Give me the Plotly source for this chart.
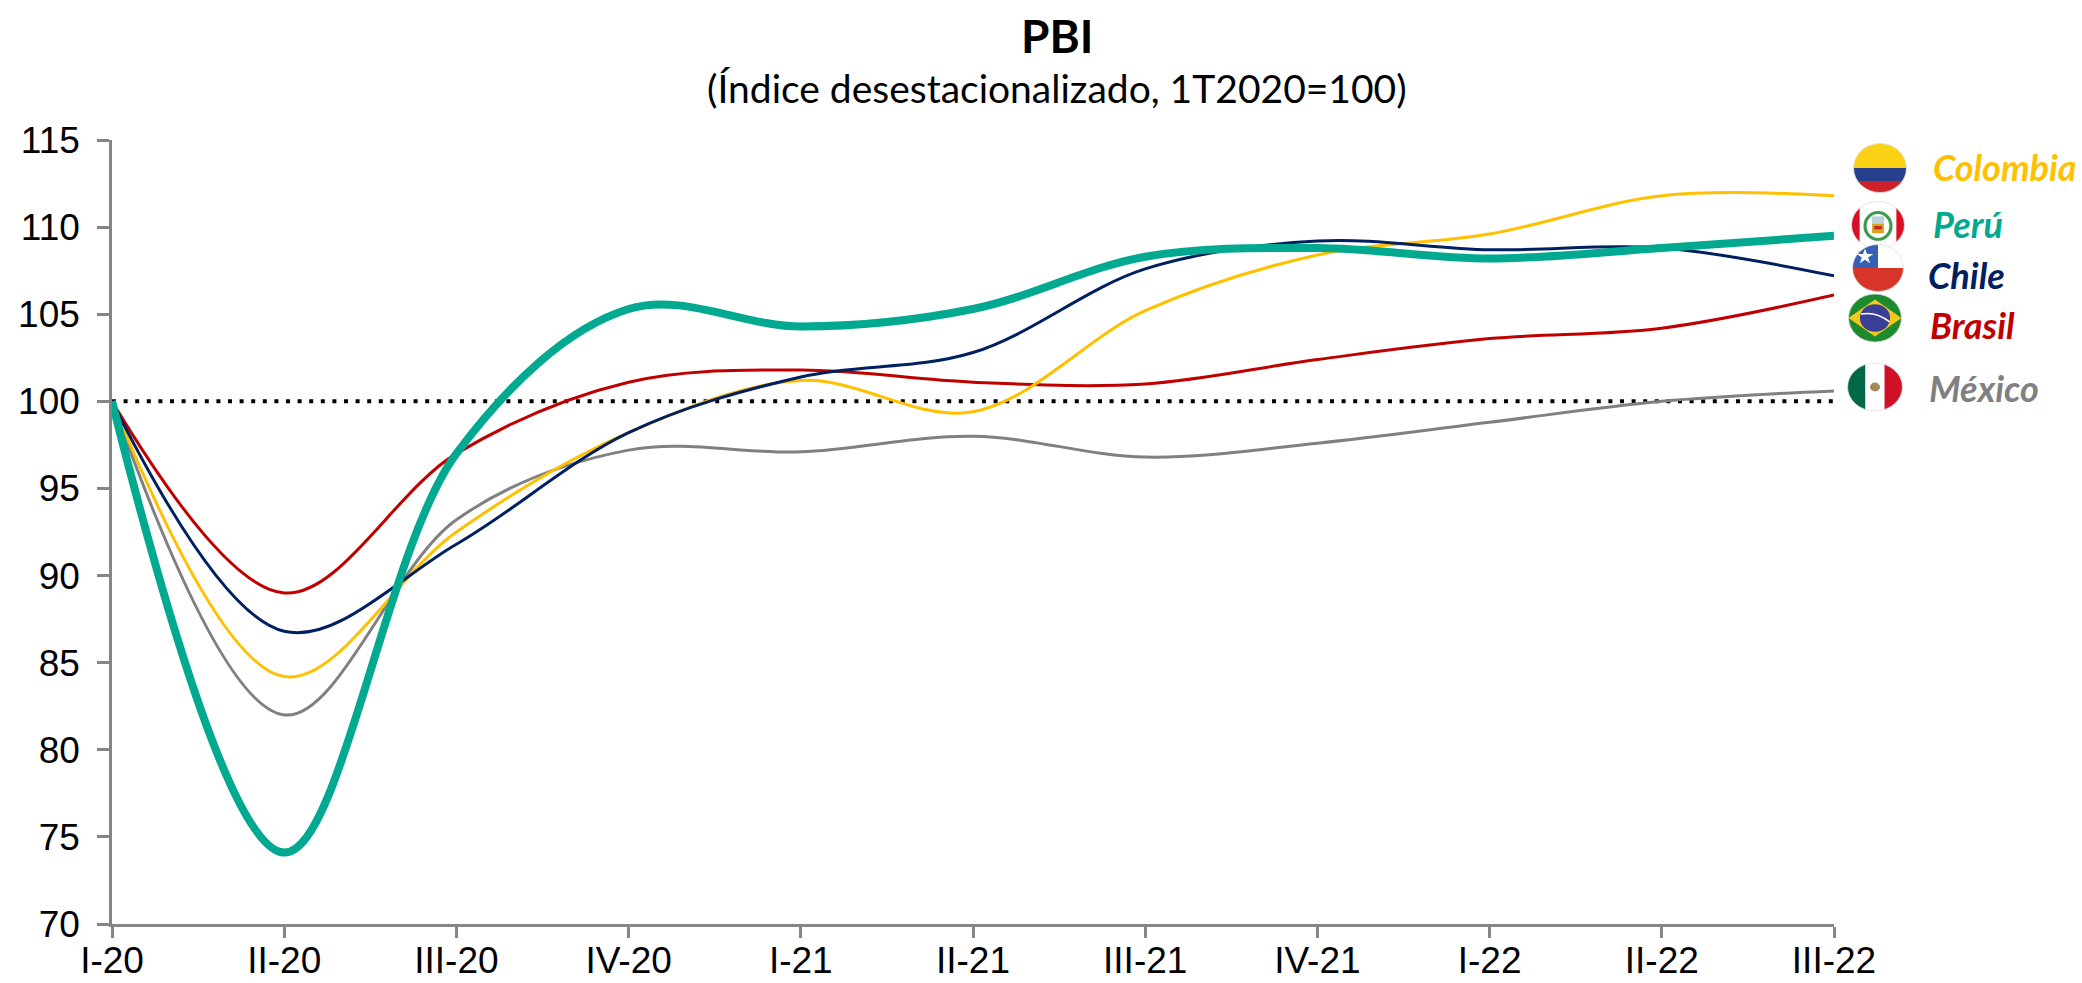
import base64
import plotly.graph_objects as go

W, H = 2082, 983
L, R, T, B = 112, 1834, 140, 924

quarters = ["I-20", "II-20", "III-20", "IV-20", "I-21", "II-21", "III-21", "IV-21", "I-22", "II-22", "III-22"]
base_line = [100] * 11
mexico = [100, 82.0, 93.2, 97.2, 97.1, 98.0, 96.8, 97.6, 98.8, 100.0, 100.6]
brasil = [100, 89.0, 97.0, 101.1, 101.8, 101.1, 101.0, 102.4, 103.6, 104.2, 106.1]
colombia = [100, 84.2, 92.5, 98.2, 101.2, 99.4, 105.2, 108.4, 109.6, 111.8, 111.8]
chile = [100, 86.8, 91.8, 98.2, 101.4, 102.8, 107.6, 109.2, 108.7, 108.8, 107.2]
peru = [100, 74.1, 97.0, 105.3, 104.3, 105.3, 108.3, 108.8, 108.2, 108.8, 109.5]

series = [
    ("México", mexico, "#808080", 3),
    ("Brasil", brasil, "#C00000", 3),
    ("Colombia", colombia, "#FFC000", 3),
    ("Chile", chile, "#002060", 3),
    ("Perú", peru, "#00A990", 8),
]

fig = go.Figure()
fig.add_trace(go.Scatter(x=list(range(11)), y=base_line, mode="lines", showlegend=False,
                         line=dict(color="#000000", width=4, dash="4px,7.6px")))
for name, vals, col, w in series:
    fig.add_trace(go.Scatter(x=list(range(11)), y=vals, mode="lines", name=name, showlegend=False,
                             line=dict(color=col, width=w, shape="spline", smoothing=1.0)))


def svg(body):
    s = ('<svg xmlns="http://www.w3.org/2000/svg" viewBox="0 0 100 100" width="200" height="200">'
         '<defs><clipPath id="c"><circle cx="50" cy="50" r="49"/></clipPath></defs>'
         '<g clip-path="url(#c)">' + body + '</g>'
         '<circle cx="50" cy="50" r="49" fill="none" stroke="#DDDDDD" stroke-width="1.5"/></svg>')
    return "data:image/svg+xml;base64," + base64.b64encode(s.encode()).decode()


def r(x, y, w, h, c):
    return f'<rect x="{x}" y="{y}" width="{w}" height="{h}" fill="{c}"/>'


flag_colombia = svg(r(0, 0, 100, 50, "#FBD116") + r(0, 50, 100, 26, "#27408B") + r(0, 76, 100, 24, "#CE2028"))
flag_peru = svg(r(0, 0, 100, 100, "#FFFFFF") + r(0, 0, 16, 100, "#D91023") + r(84, 0, 16, 100, "#D91023")
                + '<ellipse cx="50" cy="52" rx="24" ry="28" fill="none" stroke="#3C9A4A" stroke-width="6"/>'
                + r(39, 32, 22, 15, "#B9D3E0") + r(39, 47, 22, 20, "#D9A321") + r(43, 52, 14, 7, "#C8281E"))
flag_chile = svg(r(0, 0, 100, 50, "#FFFFFF") + r(0, 50, 100, 50, "#D8352A") + r(0, 0, 50, 50, "#3560B5")
                 + '<polygon points="25,10 29,21 41,21 31,28 35,40 25,33 15,40 19,28 9,21 21,21" fill="#FFFFFF"/>')
flag_brasil = svg(r(0, 0, 100, 100, "#1E8A2E") + '<polygon points="50,12 99,50 50,88 1,50" fill="#F2C81E"/>'
                  + '<circle cx="50" cy="50" r="28" fill="#3A3F96"/>'
                  + '<path d="M24 42 Q52 36 77 58" fill="none" stroke="#FFFFFF" stroke-width="3"/>')
flag_mexico = svg(r(0, 0, 33, 100, "#006847") + r(33, 0, 34, 100, "#FFFFFF") + r(67, 0, 33, 100, "#CE1126")
                  + '<circle cx="50" cy="50" r="9" fill="#A58A5A"/>')

# centre x, centre y, width, height in page pixels
flags = [
    (flag_colombia, 1880, 168, 54, 50),
    (flag_peru, 1878, 225, 54, 48),
    (flag_chile, 1878, 268, 52, 48),
    (flag_brasil, 1875, 318, 54, 49),
    (flag_mexico, 1875, 387, 56, 49),
]
images = [dict(source=s, xref="paper", yref="paper",
               x=(cx - w / 2 - L) / (R - L), y=(B - (cy - h / 2)) / (B - T),
               sizex=w / (R - L), sizey=h / (B - T), sizing="stretch",
               xanchor="left", yanchor="top", layer="above") for s, cx, cy, w, h in flags]

labels = [
    ("Colombia", 1931, 167, "#FFC000"),
    ("Perú", 1931, 224, "#00A990"),
    ("Chile", 1926, 275, "#002060"),
    ("Brasil", 1928, 325, "#C00000"),
    ("México", 1927, 388, "#808080"),
]
annotations = [dict(text=f"<b><i>{t}</i></b>", xref="paper", yref="paper",
                    x=(x - L) / (R - L), y=(B - y) / (B - T), xanchor="left", yanchor="middle",
                    showarrow=False, font=dict(family="Lato", size=36, color=c))
               for t, x, y, c in labels]
annotations += [
    dict(text="<b>PBI</b>", xref="paper", yref="paper", x=(1057 - L) / (R - L), y=(B - 35) / (B - T),
         xanchor="center", yanchor="middle", showarrow=False, font=dict(family="Lato", size=46, color="#000000")),
    dict(text="(Índice desestacionalizado, 1T2020=100)", xref="paper", yref="paper",
         x=(1057 - L) / (R - L), y=(B - 88) / (B - T), xanchor="center", yanchor="middle",
         showarrow=False, font=dict(family="Lato", size=39, color="#000000")),
]

fig.update_layout(
    width=W, height=H, autosize=False,
    margin=dict(l=L, r=W - R, t=T, b=H - B, pad=0),
    paper_bgcolor="#FFFFFF", plot_bgcolor="#FFFFFF",
    images=images, annotations=annotations,
    font=dict(family="Liberation Sans", size=37, color="#000000"),
    xaxis=dict(range=[0, 10], tickmode="array", tickvals=list(range(11)), ticktext=quarters,
               showgrid=False, zeroline=False, showline=True, linecolor="#868686", linewidth=2.5,
               ticks="outside", ticklen=11, tickwidth=2.5, tickcolor="#868686", ticklabelstandoff=-9,
               tickangle=0, automargin=False),
    yaxis=dict(range=[70, 115], tickmode="array", tickvals=list(range(70, 116, 5)),
               showgrid=False, zeroline=False, showline=True, linecolor="#868686", linewidth=2.5,
               ticks="outside", ticklen=12, tickwidth=2.5, tickcolor="#868686", ticklabelstandoff=10,
               automargin=False),
)

fig.write_html("out.html", config=dict(displayModeBar=False),
               post_script="document.body.style.margin='0';")
